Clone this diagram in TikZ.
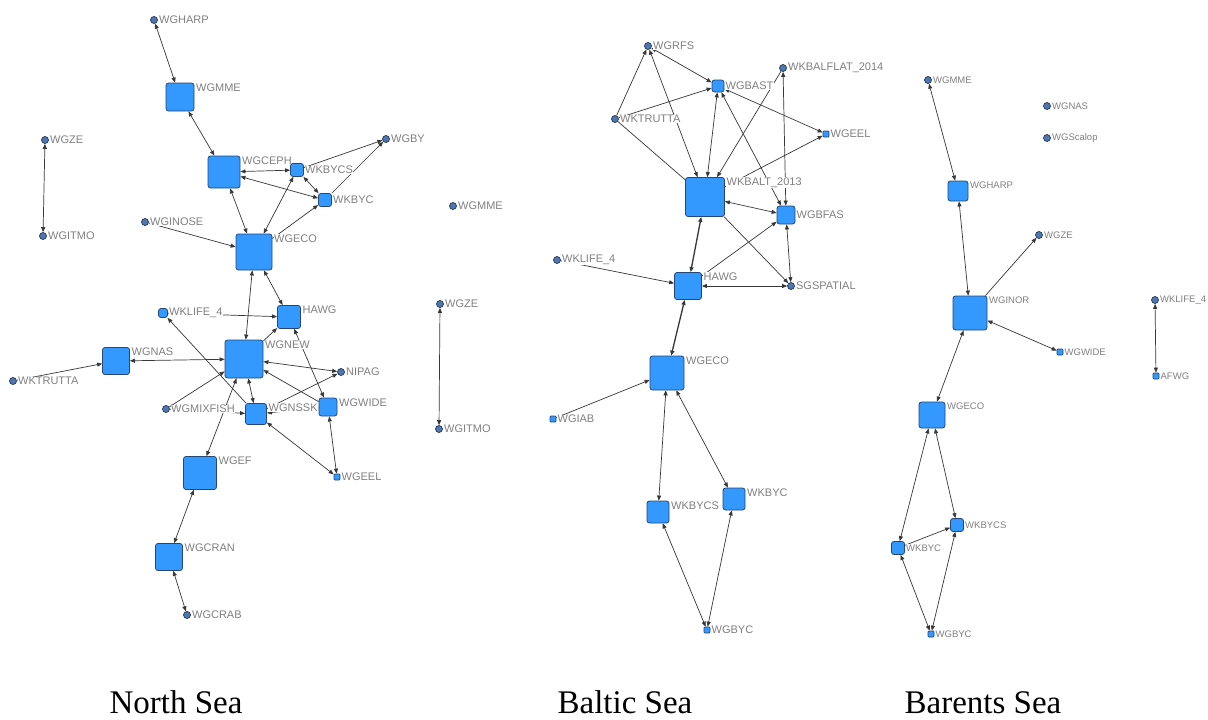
\documentclass[tikz,border=0pt]{standalone}
\usepackage{fontspec}
\setmainfont{Liberation Serif}
\newfontfamily\lblfamily{Liberation Sans}
\usetikzlibrary{arrows.meta,backgrounds}

\definecolor{nodeblue}{RGB}{51,153,255}
\definecolor{nodeedge}{RGB}{38,70,115}
\definecolor{dotfill}{RGB}{78,118,175}
\definecolor{dotedge}{RGB}{35,55,90}
\definecolor{edgecol}{RGB}{55,55,55}
\definecolor{lblgray}{RGB}{128,128,128}

\tikzset{
  lbl/.style={font=\lblfamily\fontsize{11}{12}\selectfont, text=lblgray, fill=white, inner sep=0.6pt},
  lblsm/.style={lbl, font=\lblfamily\fontsize{9.5}{11}\selectfont},
  sq/.style={draw=nodeedge, fill=nodeblue, rounded corners=2.5pt, line width=0.8pt,
             minimum size=#1, inner sep=0pt},
  tinysq/.style={draw=nodeedge, fill=nodeblue, rounded corners=0.8pt, line width=0.7pt,
             minimum size=6pt, inner sep=0pt},
  dot/.style={circle, draw=dotedge, fill=dotfill, line width=0.7pt, minimum size=7pt, inner sep=0pt},
  tl/.style={label={[lbl, anchor=north west, xshift=1pt]north east:#1}},
  rl/.style={label={[lbl, xshift=0.5pt]east:#1}},
  tls/.style={label={[lblsm, anchor=north west, xshift=1pt]north east:#1}},
  rls/.style={label={[lblsm, xshift=0.5pt]east:#1}},
  ed/.style={draw=edgecol, line width=0.7pt},
  edthick/.style={draw=edgecol, line width=1.3pt},
  title/.style={font=\fontsize{33}{36}\selectfont, anchor=base, inner sep=0pt}
}

\begin{document}
\begin{tikzpicture}[x=1pt, y=-1pt, >={Triangle[length=5pt,width=4pt]}]
\useasboundingbox (0,0) rectangle (1208,720);
\begin{scope}[on background layer]
  \fill[white] (0,0) rectangle (1208,720);
\end{scope}

% ---------------- North Sea ----------------
\node[dot, rl=WGHARP]      (ns_harp)   at (154,20)  {};
\node[sq=28pt, tl=WGMME]   (ns_mme)    at (180,97)  {};
\node[dot, rl=WGZE]        (ns_ze)     at (45,140)  {};
\node[dot, rl=WGITMO]      (ns_itmo)   at (43,236)  {};
\node[sq=32pt, tl=WGCEPH]  (ns_ceph)   at (224,172) {};
\node[sq=13pt, rl=WKBYCS]  (ns_bycs)   at (297,170) {};
\node[sq=13pt, rl=WKBYC]   (ns_byc)    at (325,200) {};
\node[dot, rl=WGBY]        (ns_by)     at (386,139) {};
\node[dot, rl=WGINOSE]     (ns_inose)  at (145,222) {};
\node[sq=36pt, tl=WGECO]   (ns_eco)    at (254,252) {};
\node[sq=23pt, tl=HAWG]    (ns_hawg)   at (289,317) {};
\node[sq=9pt, rl=WKLIFE\_4] (ns_life)  at (163,313) {};
\node[sq=38pt, tl=WGNEW]   (ns_new)    at (244,359) {};
\node[sq=27pt, tl=WGNAS]   (ns_nas)    at (116,361) {};
\node[dot, rl=WKTRUTTA]    (ns_trutta) at (13,381)  {};
\node[dot, rl=NIPAG]       (ns_nipag)  at (341,372) {};
\node[dot, rl=WGMIXFISH]   (ns_mix)    at (166,409) {};
\node[sq=21pt, tl=WGNSSK]  (ns_nssk)   at (256,414) {};
\node[sq=18pt, tl=WGWIDE]  (ns_wide)   at (328,407) {};
\node[tinysq, rl=WGEEL]    (ns_eel)    at (337,477) {};
\node[sq=33pt, tl=WGEF]    (ns_ef)     at (200,473) {};
\node[sq=27pt, tl=WGCRAN]  (ns_cran)   at (169,557) {};
\node[dot, rl=WGCRAB]      (ns_crab)   at (187,615) {};
\node[dot, rl=WGMME]       (ns_mme2)   at (453,206) {};
\node[dot, rl=WGZE]        (ns_ze2)    at (440,304) {};
\node[dot, rl=WGITMO]      (ns_itmo2)  at (439,429) {};

% ---------------- Baltic Sea ----------------
\node[dot, rl=WGRFS]            (ba_rfs)    at (648,46)  {};
\node[sq=12pt, rl=WGBAST]       (ba_bast)   at (718,86)  {};
\node[dot, rl=WKBALFLAT\_2014]  (ba_flat)   at (783,68)  {};
\node[dot, rl=WKTRUTTA]         (ba_trutta) at (615,119) {};
\node[tinysq, rl=WGEEL]         (ba_eel)    at (826,134) {};
\node[sq=39pt, tl=WKBALT\_2013] (ba_balt)   at (705,197) {};
\node[sq=18pt, rl=WGBFAS]       (ba_bfas)   at (786,215) {};
\node[dot, rl=WKLIFE\_4]        (ba_life)   at (557,260) {};
\node[sq=27pt, tl=HAWG]         (ba_hawg)   at (688,286) {};
\node[dot, rl=SGSPATIAL]        (ba_spat)   at (791,286) {};
\node[sq=34pt, tl=WGECO]        (ba_eco)    at (667,373) {};
\node[tinysq, rl=WGIAB]         (ba_iab)    at (553,419) {};
\node[sq=22pt, tl=WKBYCS]       (ba_bycs)   at (658,512) {};
\node[sq=22pt, tl=WKBYC]        (ba_byc)    at (734,499) {};
\node[tinysq, rl=WGBYC]         (ba_gbyc)   at (707,630) {};

% ---------------- Barents Sea ----------------
\node[dot, rls=WGMME]       (bs_mme)  at (928,80)   {};
\node[dot, rls=WGNAS]       (bs_nas)  at (1047,106) {};
\node[dot, rls=WGScalop]    (bs_scal) at (1047,138) {};
\node[sq=20pt, tls=WGHARP]  (bs_harp) at (958,191)  {};
\node[dot, rls=WGZE]        (bs_ze)   at (1039,235) {};
\node[sq=34pt, tls=WGINOR]  (bs_inor) at (970,313)  {};
\node[dot, rls=WKLIFE\_4]   (bs_life) at (1155,300) {};
\node[tinysq, rls=WGWIDE]   (bs_wide) at (1060,352) {};
\node[tinysq, rls=AFWG]     (bs_afwg) at (1156,376) {};
\node[sq=26pt, tls=WGECO]   (bs_eco)  at (932,415)  {};
\node[sq=13pt, rls=WKBYCS]  (bs_bycs) at (957,525)  {};
\node[sq=13pt, rls=WKBYC]   (bs_byc)  at (898,548)  {};
\node[tinysq, rls=WGBYC]    (bs_gbyc) at (931,634)  {};

% ---------------- titles ----------------
\node[title] (t_ns) at (176,713) {North Sea};
\node[title] (t_ba) at (625,713) {Baltic Sea};
\node[title] (t_bs) at (983,713) {Barents Sea};

% ---------------- links ----------------
\begin{scope}[on background layer]
  % North Sea
  \draw[ed,<->] (ns_harp) -- (ns_mme);
  \draw[ed,<->] (ns_mme) -- (ns_ceph);
  \draw[ed,<->] (ns_ze) -- (ns_itmo);
  \draw[ed,<->] (ns_ceph) -- (ns_bycs);
  \draw[ed,<->] (ns_ceph) -- (ns_byc);
  \draw[ed,<->] (ns_bycs) -- (ns_byc);
  \draw[ed,->]  (ns_bycs) -- (ns_by);
  \draw[ed,->]  (ns_byc) -- (ns_by);
  \draw[ed,<->] (ns_ceph) -- (ns_eco);
  \draw[ed,<->] (ns_eco) -- (ns_bycs);
  \draw[ed,->]  (ns_eco) -- (ns_byc);
  \draw[ed,->]  (ns_inose) -- (ns_eco);
  \draw[ed,<->] (ns_eco) -- (ns_new);
  \draw[ed,<->] (ns_eco) -- (ns_hawg);
  \draw[ed,->]  (ns_life) -- (ns_hawg);
  \draw[ed,->]  (ns_nssk) -- (ns_life);
  \draw[ed,->]  (ns_new) -- (ns_hawg);
  \draw[ed,<->] (ns_wide) -- (ns_hawg);
  \draw[ed,<->] (ns_nas) -- (ns_new);
  \draw[ed,->]  (ns_trutta) -- (ns_nas);
  \draw[ed,<->] (ns_new) -- (ns_nipag);
  \draw[ed,->]  (ns_wide) -- (ns_new);
  \draw[ed,->]  (ns_nssk) -- (ns_nipag);
  \draw[ed,<->] (ns_new) -- (ns_nssk);
  \draw[ed,->]  (ns_mix) -- (ns_new);
  \draw[ed,->]  (ns_mix) -- (ns_nssk);
  \draw[ed,->]  (ns_wide) -- (ns_nssk);
  \draw[ed,<->] (ns_new) -- (ns_ef);
  \draw[ed,<->] (ns_nssk) -- (ns_eel);
  \draw[ed,<->] (ns_wide) -- (ns_eel);
  \draw[ed,<->] (ns_ef) -- (ns_cran);
  \draw[ed,<->] (ns_cran) -- (ns_crab);
  \draw[ed,<->] (ns_ze2) -- (ns_itmo2);
  % Baltic Sea
  \draw[ed,->]  (ba_trutta) -- (ba_rfs);
  \draw[ed,<->] (ba_balt) -- (ba_rfs);
  \draw[ed,<->] (ba_rfs) -- (ba_bast);
  \draw[ed,->]  (ba_trutta) -- (ba_bast);
  \draw[ed]     (ba_trutta) -- (ba_balt);
  \draw[ed,<->] (ba_bast) -- (ba_balt);
  \draw[ed,->]  (ba_flat) -- (ba_balt);
  \draw[ed,<->] (ba_flat) -- (ba_bfas);
  \draw[ed,<->] (ba_bast) -- (ba_eel);
  \draw[ed,->]  (ba_balt) -- (ba_eel);
  \draw[ed,<->] (ba_bast) -- (ba_bfas);
  \draw[ed,<->] (ba_balt) -- (ba_bfas);
  \draw[ed,->]  (ba_balt) -- (ba_spat);
  \draw[ed,<->] (ba_bfas) -- (ba_spat);
  \draw[ed,<->] (ba_hawg) -- (ba_spat);
  \draw[ed,->]  (ba_hawg) -- (ba_bfas);
  \draw[edthick,<->] (ba_balt) -- (ba_hawg);
  \draw[ed,->]  (ba_life) -- (ba_hawg);
  \draw[edthick,<->] (ba_hawg) -- (ba_eco);
  \draw[ed,->]  (ba_iab) -- (ba_eco);
  \draw[ed,<->] (ba_eco) -- (ba_bycs);
  \draw[ed,<->] (ba_eco) -- (ba_byc);
  \draw[ed,<->] (ba_bycs) -- (ba_gbyc);
  \draw[ed,<->] (ba_byc) -- (ba_gbyc);
  % Barents Sea
  \draw[ed,<->] (bs_mme) -- (bs_harp);
  \draw[ed,<->] (bs_harp) -- (bs_inor);
  \draw[ed,->]  (bs_inor) -- (bs_ze);
  \draw[ed,<->] (bs_inor) -- (bs_wide);
  \draw[ed,<->] (bs_inor) -- (bs_eco);
  \draw[ed,<->] (bs_life) -- (bs_afwg);
  \draw[ed,<->] (bs_eco) -- (bs_byc);
  \draw[ed,<->] (bs_eco) -- (bs_bycs);
  \draw[ed,->]  (bs_byc) -- (bs_bycs);
  \draw[ed,<->] (bs_byc) -- (bs_gbyc);
  \draw[ed,<->] (bs_bycs) -- (bs_gbyc);
\end{scope}
\end{tikzpicture}
\end{document}
